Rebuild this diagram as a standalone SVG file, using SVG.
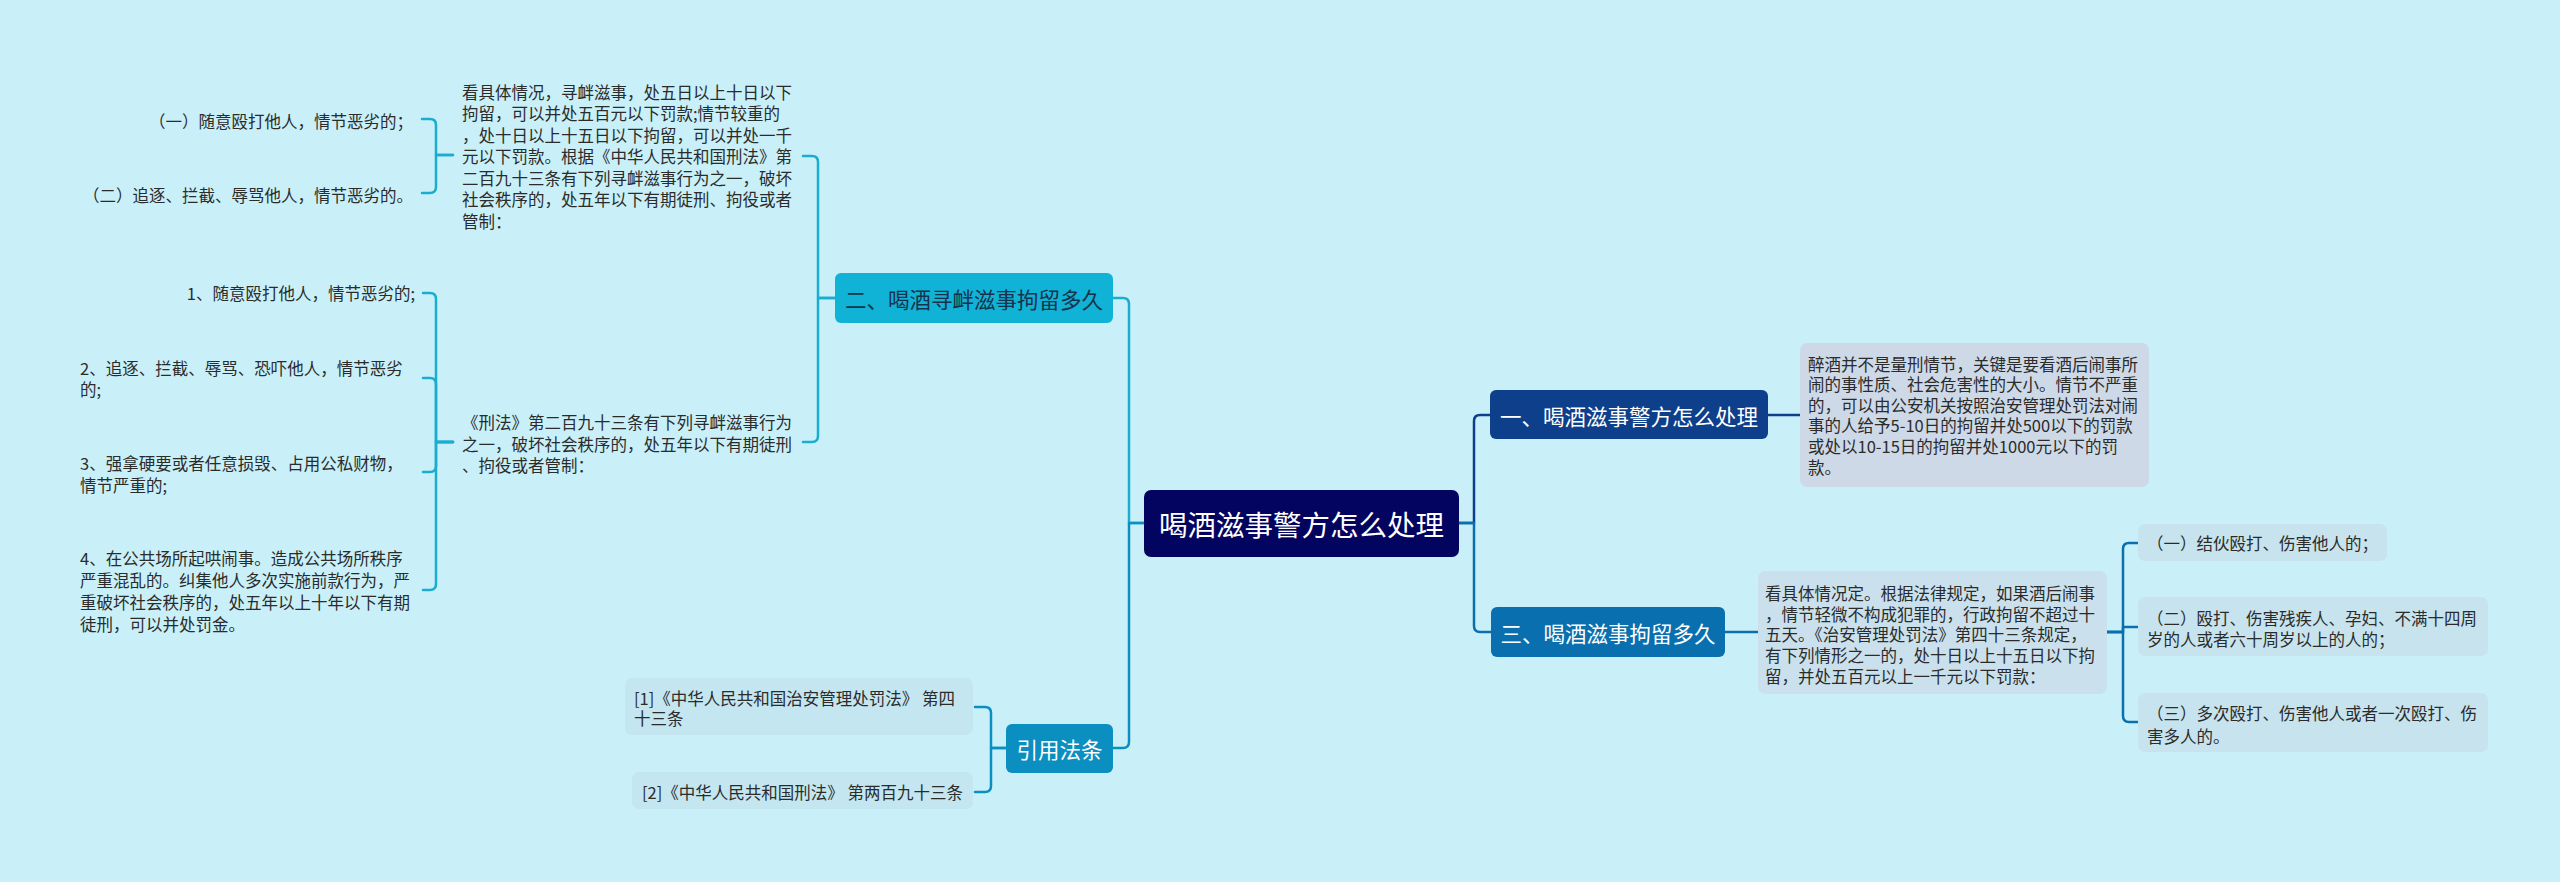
<svg xmlns="http://www.w3.org/2000/svg" width="2560" height="882" viewBox="0 0 2560 882">
<style>
text{font-family:"Noto Sans CJK SC","Noto Sans",sans-serif;dominant-baseline:central}
.t{font-size:16.5px;fill:#2b2b2b}
.l1{font-size:21.5px;fill:#ffffff}
.c{fill:none;stroke-width:2.5;stroke-linecap:round;stroke-linejoin:round}
.cy{stroke:#1aadd0}
.bl{stroke:#0b8ec0}
.db{stroke:#0d3f8a}
.mb{stroke:#0a6fae}
</style>
<rect x="0" y="0" width="2560" height="882" fill="#c9f0f8"/>
<g id="connectors">
<path class="c cy" d="M1144,523 H1129 V304 Q1129,298 1123,298 H1113"/>
<path class="c bl" d="M1144,523 H1129 V742 Q1129,748 1123,748 H1113"/>
<path class="c cy" d="M835,298 H818 V162 Q818,156 812,156 H803"/>
<path class="c cy" d="M835,298 H818 V436 Q818,442 812,442 H803"/>
<path class="c cy" d="M453,155 H436 V125 Q436,119 430,119 H422"/>
<path class="c cy" d="M453,155 H436 V187 Q436,193 430,193 H422"/>
<path class="c cy" d="M453,442 H436 V299 Q436,293 430,293 H423"/>
<path class="c cy" d="M453,442 H436 V384 Q436,378 430,378 H423"/>
<path class="c cy" d="M453,442 H436 V466 Q436,472 430,472 H423"/>
<path class="c cy" d="M453,442 H436 V584 Q436,590 430,590 H423"/>
<path class="c bl" d="M1006,748 H991 V713 Q991,707 985,707 H975"/>
<path class="c bl" d="M1006,748 H991 V786 Q991,792 985,792 H975"/>
<path class="c db" d="M1459,523 H1474 V421 Q1474,415 1480,415 H1490"/>
<path class="c db" d="M1768,415 H1800"/>
<path class="c mb" d="M1459,523 H1474 V626 Q1474,632 1480,632 H1491"/>
<path class="c mb" d="M1725,632 H1758"/>
<path class="c mb" d="M2107,632 H2123 V549 Q2123,543 2129,543 H2138"/>
<path class="c mb" d="M2107,632 H2123 V627 H2138"/>
<path class="c mb" d="M2107,632 H2123 V716 Q2123,722 2129,722 H2138"/>
</g>
<g id="root">
<rect x="1144" y="490" width="315" height="67" rx="7" fill="#03045f"/>
<text x="1301.5" y="523" font-size="28.5" fill="#ffffff" text-anchor="middle">喝酒滋事警方怎么处理</text>
</g>
<g id="n2">
<rect x="835" y="273" width="278" height="50" rx="6" fill="#10b3d6"/>
<text class="l1" x="974" y="298" text-anchor="middle" style="fill:#17324d">二、喝酒寻衅滋事拘留多久</text>
</g>
<g id="n2a">
<text class="t" x="462"><tspan x="462" y="91.5">看具体情况，寻衅滋事，处五日以上十日以下</tspan><tspan x="462" y="113">拘留，可以并处五百元以下罚款;情节较重的</tspan><tspan x="462" y="134.5">，处十日以上十五日以下拘留，可以并处一千</tspan><tspan x="462" y="156">元以下罚款。根据《中华人民共和国刑法》第</tspan><tspan x="462" y="177.5">二百九十三条有下列寻衅滋事行为之一，破坏</tspan><tspan x="462" y="199">社会秩序的，处五年以下有期徒刑、拘役或者</tspan><tspan x="462" y="220.5">管制：</tspan></text>
</g>
<g id="n2a1"><text class="t" x="413" y="121" text-anchor="end">（一）随意殴打他人，情节恶劣的；</text></g>
<g id="n2a2"><text class="t" x="413" y="195" text-anchor="end">（二）追逐、拦截、辱骂他人，情节恶劣的。</text></g>
<g id="n2b">
<text class="t"><tspan x="462" y="422">《刑法》第二百九十三条有下列寻衅滋事行为</tspan><tspan x="462" y="443.5">之一，破坏社会秩序的，处五年以下有期徒刑</tspan><tspan x="462" y="465">、拘役或者管制：</tspan></text>
</g>
<g id="n2b1"><text class="t" x="415" y="293" text-anchor="end">1、随意殴打他人，情节恶劣的;</text></g>
<g id="n2b2"><text class="t"><tspan x="80" y="368">2、追逐、拦截、辱骂、恐吓他人，情节恶劣</tspan><tspan x="80" y="389">的;</tspan></text></g>
<g id="n2b3"><text class="t"><tspan x="80" y="463">3、强拿硬要或者任意损毁、占用公私财物，</tspan><tspan x="80" y="485">情节严重的;</tspan></text></g>
<g id="n2b4"><text class="t"><tspan x="80" y="558">4、在公共场所起哄闹事。造成公共场所秩序</tspan><tspan x="80" y="580">严重混乱的。纠集他人多次实施前款行为，严</tspan><tspan x="80" y="602">重破坏社会秩序的，处五年以上十年以下有期</tspan><tspan x="80" y="624">徒刑，可以并处罚金。</tspan></text></g>
<g id="n4">
<rect x="1006" y="724" width="107" height="49" rx="6" fill="#0b8ec0"/>
<text class="l1" x="1059.5" y="748.5" text-anchor="middle">引用法条</text>
</g>
<g id="n4a">
<rect x="625" y="678" width="348" height="57" rx="7" fill="#c3e6f0"/>
<text class="t"><tspan x="634" y="697.5">[1]《中华人民共和国治安管理处罚法》 第四</tspan><tspan x="634" y="718">十三条</tspan></text>
</g>
<g id="n4b">
<rect x="632" y="772" width="341" height="37" rx="7" fill="#c3e6f0"/>
<text class="t" x="642" y="792">[2]《中华人民共和国刑法》 第两百九十三条</text>
</g>
<g id="n1">
<rect x="1490" y="390" width="278" height="49" rx="6" fill="#0d3f8a"/>
<text class="l1" x="1629" y="415" text-anchor="middle">一、喝酒滋事警方怎么处理</text>
</g>
<g id="n1a">
<rect x="1800" y="343" width="349" height="144" rx="7" fill="#cdd9e7"/>
<text class="t"><tspan x="1808" y="363.5">醉酒并不是量刑情节，关键是要看酒后闹事所</tspan><tspan x="1808" y="384">闹的事性质、社会危害性的大小。情节不严重</tspan><tspan x="1808" y="404.7">的，可以由公安机关按照治安管理处罚法对闹</tspan><tspan x="1808" y="425.3">事的人给予5-10日的拘留并处500以下的罚款</tspan><tspan x="1808" y="446">或处以10-15日的拘留并处1000元以下的罚</tspan><tspan x="1808" y="466.5">款。</tspan></text>
</g>
<g id="n3">
<rect x="1491" y="607" width="234" height="50" rx="6" fill="#0a6fae"/>
<text class="l1" x="1608" y="632" text-anchor="middle">三、喝酒滋事拘留多久</text>
</g>
<g id="n3a">
<rect x="1758" y="571" width="349" height="123" rx="7" fill="#cae1ed"/>
<text class="t"><tspan x="1765" y="592.5">看具体情况定。根据法律规定，如果酒后闹事</tspan><tspan x="1765" y="613.5">，情节轻微不构成犯罪的，行政拘留不超过十</tspan><tspan x="1765" y="634">五天。《治安管理处罚法》第四十三条规定，</tspan><tspan x="1765" y="654.5">有下列情形之一的，处十日以上十五日以下拘</tspan><tspan x="1765" y="675.5">留，并处五百元以上一千元以下罚款：</tspan></text>
</g>
<g id="n3a1">
<rect x="2138" y="524" width="249" height="37" rx="7" fill="#c6e3ee"/>
<text class="t" x="2147" y="543">（一）结伙殴打、伤害他人的；</text>
</g>
<g id="n3a2">
<rect x="2138" y="597" width="350" height="59" rx="7" fill="#c6e3ee"/>
<text class="t"><tspan x="2147" y="618">（二）殴打、伤害残疾人、孕妇、不满十四周</tspan><tspan x="2147" y="639">岁的人或者六十周岁以上的人的；</tspan></text>
</g>
<g id="n3a3">
<rect x="2138" y="693" width="350" height="59" rx="7" fill="#c6e3ee"/>
<text class="t"><tspan x="2147" y="713">（三）多次殴打、伤害他人或者一次殴打、伤</tspan><tspan x="2147" y="736">害多人的。</tspan></text>
</g>
</svg>
